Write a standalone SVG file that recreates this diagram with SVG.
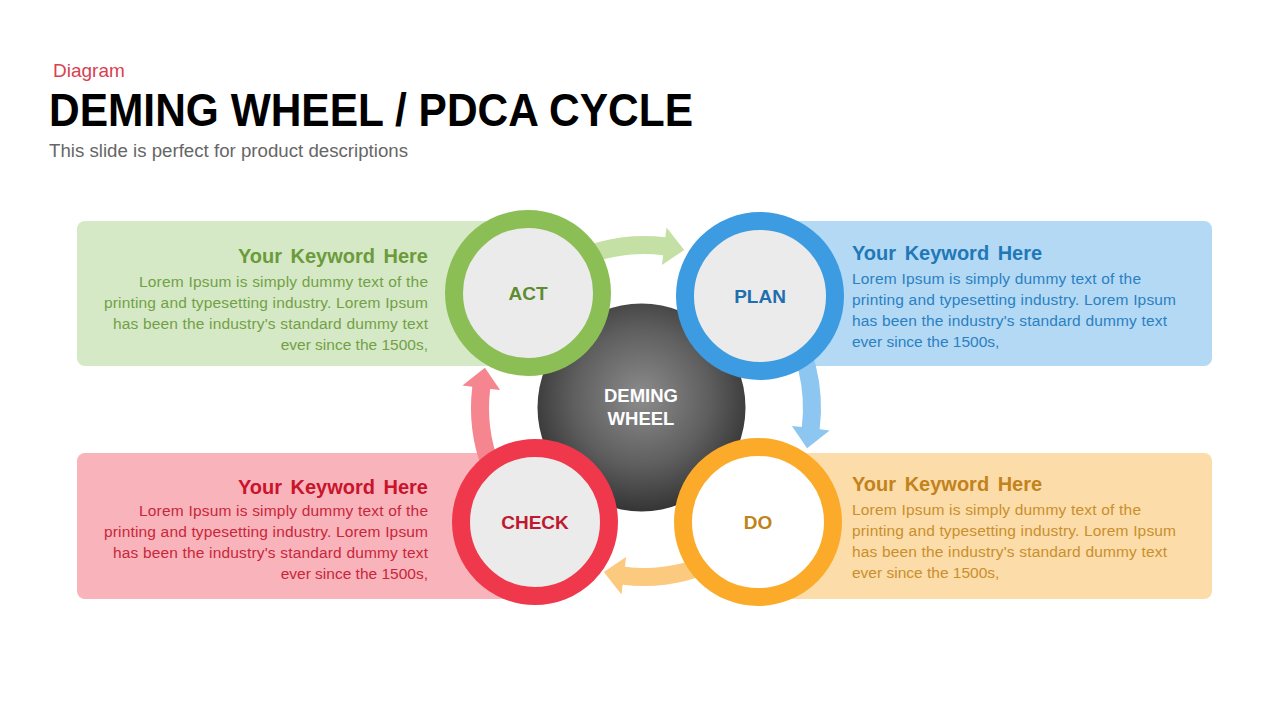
<svg xmlns="http://www.w3.org/2000/svg" width="1280" height="720" viewBox="0 0 1280 720">
<style>
text{font-family:"Liberation Sans",Arial,sans-serif}
.hd{font-size:20px;font-weight:bold;word-spacing:3px}
.bd{font-size:15.5px}
.lbl{font-size:19px;font-weight:bold;text-anchor:middle}
.r{text-anchor:end}
.inner{fill:#ebebeb}
</style>
<defs>
<radialGradient id="gc" cx="0.5" cy="0.45" r="0.55">
<stop offset="0" stop-color="#8c8c8c"/>
<stop offset="0.6" stop-color="#5e5e5e"/>
<stop offset="1" stop-color="#353535"/>
</radialGradient>
<path id="arr" d="M -100.4 -143.4 A 175 175 0 0 1 21.3 -173.7 L 22.55 -183.6 L 40.2 -161.1 L 17.9 -145.9 L 19.1 -155.8 A 157 157 0 0 0 -90.1 -128.6 Z"/>
</defs>
<rect width="1280" height="720" fill="#ffffff"/>
<text x="53" y="77" font-size="19" fill="#d9414f">Diagram</text>
<text x="49" y="126" font-size="46" font-weight="bold" fill="#000" textLength="644" lengthAdjust="spacingAndGlyphs">DEMING WHEEL / PDCA CYCLE</text>
<text x="49" y="157" font-size="18" fill="#666" textLength="359" lengthAdjust="spacingAndGlyphs">This slide is perfect for product descriptions</text>

<g id="box-act">
<rect x="77" y="221" width="430" height="145" rx="8" fill="#d6e9c6"/>
<text class="hd r" x="428" y="263" fill="#6b9b3b">Your Keyword Here</text>
<g class="bd r" fill="#72a046">
<text class="bd r" x="428" y="287" textLength="289" lengthAdjust="spacing">Lorem Ipsum is simply dummy text of the</text>
<text class="bd r" x="428" y="308" textLength="324" lengthAdjust="spacing">printing and typesetting industry.  Lorem Ipsum</text>
<text class="bd r" x="428" y="329" textLength="315" lengthAdjust="spacing">has been the industry's standard dummy text</text>
<text class="bd r" x="428" y="350">ever since the 1500s,</text>
</g>
</g>
<g id="box-plan">
<rect x="780" y="221" width="432" height="145" rx="8" fill="#b3d9f4"/>
<text class="hd" x="852" y="260" fill="#1f78b8">Your Keyword Here</text>
<g fill="#2b80c2">
<text class="bd" x="852" y="284" textLength="289" lengthAdjust="spacing">Lorem Ipsum is simply dummy text of the</text>
<text class="bd" x="852" y="305" textLength="324" lengthAdjust="spacing">printing and typesetting industry.  Lorem Ipsum</text>
<text class="bd" x="852" y="326" textLength="315" lengthAdjust="spacing">has been the industry's standard dummy text</text>
<text class="bd" x="852" y="347">ever since the 1500s,</text>
</g>
</g>
<g id="box-check">
<rect x="77" y="453" width="440" height="146" rx="8" fill="#f9b3ba"/>
<text class="hd r" x="428" y="494" fill="#c8142c">Your Keyword Here</text>
<g fill="#c8263c">
<text class="bd r" x="428" y="516" textLength="289" lengthAdjust="spacing">Lorem Ipsum is simply dummy text of the</text>
<text class="bd r" x="428" y="537" textLength="324" lengthAdjust="spacing">printing and typesetting industry.  Lorem Ipsum</text>
<text class="bd r" x="428" y="558" textLength="315" lengthAdjust="spacing">has been the industry's standard dummy text</text>
<text class="bd r" x="428" y="579">ever since the 1500s,</text>
</g>
</g>
<g id="box-do">
<rect x="780" y="453" width="432" height="146" rx="8" fill="#fcdca8"/>
<text class="hd" x="852" y="491" fill="#c2821c">Your Keyword Here</text>
<g fill="#c98f2e">
<text class="bd" x="852" y="515" textLength="289" lengthAdjust="spacing">Lorem Ipsum is simply dummy text of the</text>
<text class="bd" x="852" y="536" textLength="324" lengthAdjust="spacing">printing and typesetting industry.  Lorem Ipsum</text>
<text class="bd" x="852" y="557" textLength="315" lengthAdjust="spacing">has been the industry's standard dummy text</text>
<text class="bd" x="852" y="578">ever since the 1500s,</text>
</g>
</g>

<g id="connectors">
<use href="#arr" transform="translate(644 411)" fill="#c5e0a5"/>
<use href="#arr" transform="translate(646 408) rotate(90)" fill="#8dc6f0"/>
<use href="#arr" transform="translate(644 411) rotate(180)" fill="#fbca7e"/>
<use href="#arr" transform="translate(646 408) rotate(270)" fill="#f5858f"/>
</g>

<g id="center">
<circle cx="641.5" cy="407.5" r="104" fill="url(#gc)"/>
<text x="641" y="402" font-size="18.5" font-weight="bold" fill="#fff" text-anchor="middle">DEMING</text>
<text x="641" y="425" font-size="18.5" font-weight="bold" fill="#fff" text-anchor="middle">WHEEL</text>
</g>

<g id="node-act">
<circle cx="528" cy="293" r="74" class="inner" stroke="#8bbf56" stroke-width="18"/>
<text class="lbl" x="528" y="300" fill="#5e8c30">ACT</text>
</g>
<g id="node-plan">
<circle cx="760" cy="296" r="75" class="inner" stroke="#3d9be2" stroke-width="18"/>
<text class="lbl" x="760" y="303" fill="#1f6fae">PLAN</text>
</g>
<g id="node-check">
<circle cx="535" cy="522" r="74" class="inner" stroke="#f0384c" stroke-width="18"/>
<text class="lbl" x="535" y="529" fill="#c0182e">CHECK</text>
</g>
<g id="node-do">
<circle cx="758" cy="522" r="75" fill="#ffffff" stroke="#fbab29" stroke-width="18"/>
<text class="lbl" x="758" y="529" fill="#c08318">DO</text>
</g>
</svg>
